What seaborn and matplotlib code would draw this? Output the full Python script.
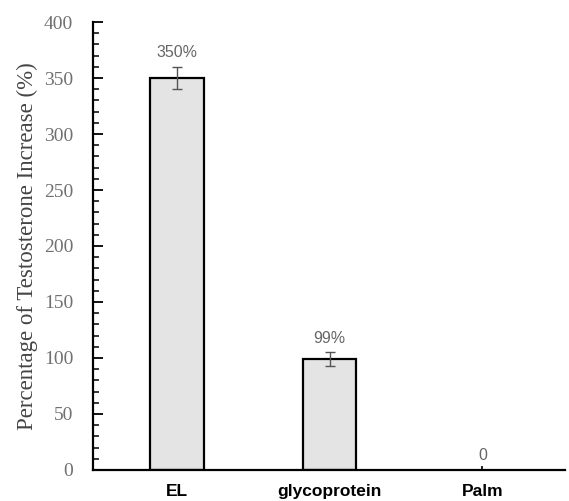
import matplotlib
matplotlib.use("Agg")
import matplotlib.pyplot as plt
from matplotlib.ticker import MultipleLocator
import seaborn as sns
import pandas as pd

# Data
groups = ["EL", "glycoprotein", "Palm"]
increase_pct = [350, 99, 0]
errors = [10, 6, 0]
value_labels = ["350%", "99%", "0"]

sns.set_theme(style="white")

df = pd.DataFrame({"group": groups, "increase": increase_pct})

fig = plt.figure(figsize=(5.69, 5.01), dpi=100)
ax = fig.add_axes([0.163, 0.062, 0.830, 0.894])

sns.barplot(data=df, x="group", y="increase", order=groups, ax=ax,
            color="#e4e4e4", edgecolor="black", linewidth=1.6,
            width=0.35, errorbar=None, saturation=1)
# a zero-height bar leaves no outline
for patch in ax.patches:
    if patch.get_height() == 0:
        patch.set_linewidth(0)

# error bars for the non-zero groups
xs = [i for i, e in enumerate(errors) if e > 0]
ax.errorbar(xs, [increase_pct[i] for i in xs], yerr=[errors[i] for i in xs],
            fmt="none", ecolor="#555555", elinewidth=1.0, capsize=3.5, capthick=1.0)

for i, (v, e, lab) in enumerate(zip(increase_pct, errors, value_labels)):
    ax.text(i, v + e + 6, lab, ha="center", va="bottom",
            fontsize=11.5, color="#666666", family="Liberation Sans")

ax.set_ylim(0, 400)
ax.set_xlim(-0.55, 2.54)
ax.yaxis.set_major_locator(MultipleLocator(50))
ax.yaxis.set_minor_locator(MultipleLocator(10))

ax.set_xlabel("")
ax.set_ylabel("Percentage of Testosterone Increase (%)", family="Liberation Serif",
              fontsize=16.5, color="#444444", labelpad=4)

for s in ["top", "right"]:
    ax.spines[s].set_visible(False)
for s in ["left", "bottom"]:
    ax.spines[s].set_color("black")
    ax.spines[s].set_linewidth(1.6)

ax.tick_params(axis="y", which="major", direction="in", length=7, width=1.3,
               color="black", labelsize=14, labelcolor="#707070", left=True, pad=14)
ax.tick_params(axis="y", which="minor", direction="in", length=4, width=1.1,
               color="black", left=True)
ax.tick_params(axis="x", which="major", direction="in", length=3, width=1.2,
               color="black", bottom=True, labelsize=12.5, labelcolor="black", pad=10)
for lab in ax.get_yticklabels():
    lab.set_family("Liberation Serif")
for lab in ax.get_xticklabels():
    lab.set_family("Liberation Sans")
    lab.set_fontweight("bold")

fig.savefig("out.png", dpi=100)
